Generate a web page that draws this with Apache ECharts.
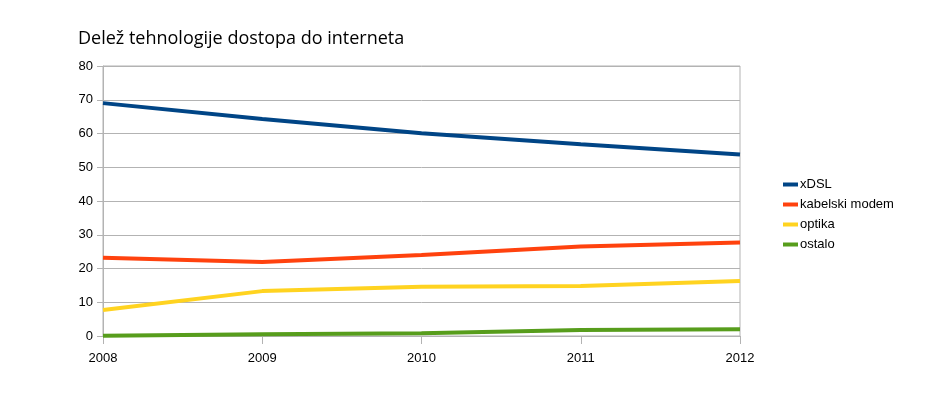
<!DOCTYPE html>
<html><head><meta charset="utf-8">
<script src="https://cdn.jsdelivr.net/npm/echarts@6/dist/echarts.min.js"></script>
<style>html,body{margin:0;padding:0;background:#fff}#c{width:940px;height:408px}</style>
</head><body><div id="c"></div>
<script>
const categories = ['2008','2009','2010','2011','2012'];
const xDSL = [69.0, 64.3, 60.1, 56.8, 53.8];
const kabelski = [23.2, 21.9, 24.0, 26.5, 27.7];
const optika = [7.7, 13.3, 14.6, 14.8, 16.3];
const ostalo = [0.1, 0.5, 0.8, 1.8, 2.0];
const seriesNames = ['xDSL','kabelski modem','optika','ostalo'];
const colors = ['#004586','#ff420e','#ffd320','#579d1c'];
const values = [xDSL, kabelski, optika, ostalo];

const chart = echarts.init(document.getElementById('c'));
chart.setOption({
  animation: false,
  title: {
    text: 'Delež tehnologije dostopa do interneta',
    left: 73, top: 25,
    textStyle: {fontFamily: 'Open Sans', fontSize: 18, fontWeight: 'normal', color: '#000'}
  },
  legend: {
    orient: 'vertical', left: 778, top: 173,
    icon: 'rect', itemWidth: 15, itemHeight: 4, itemGap: 7,
    textStyle: {fontFamily: 'Liberation Sans', fontSize: 13, color: '#000', padding: [0,0,0,-3]},
    data: seriesNames
  },
  grid: {left: 103, right: 200, top: 66, bottom: 72, show: true, borderColor: '#b3b3b3', borderWidth: 1},
  xAxis: {
    type: 'category', data: categories, boundaryGap: false,
    axisLine: {lineStyle: {color: '#b3b3b3'}},
    axisTick: {show: true, length: 8, lineStyle: {color: '#b3b3b3'}},
    axisLabel: {fontFamily: 'Liberation Sans', fontSize: 13, color: '#000', margin: 16},
    splitLine: {show: false}
  },
  yAxis: {
    type: 'value', min: 0, max: 80, interval: 10,
    axisLine: {show: true, lineStyle: {color: '#b3b3b3'}},
    axisTick: {show: true, length: 6, lineStyle: {color: '#b3b3b3'}},
    axisLabel: {fontFamily: 'Liberation Sans', fontSize: 13, color: '#000', margin: 10},
    splitLine: {lineStyle: {color: '#b3b3b3'}}
  },
  series: values.map((v, i) => ({
    name: seriesNames[i], type: 'line', data: v, symbol: 'none',
    lineStyle: {width: 4, color: colors[i]}, itemStyle: {color: colors[i]}
  }))
});
</script></body></html>
